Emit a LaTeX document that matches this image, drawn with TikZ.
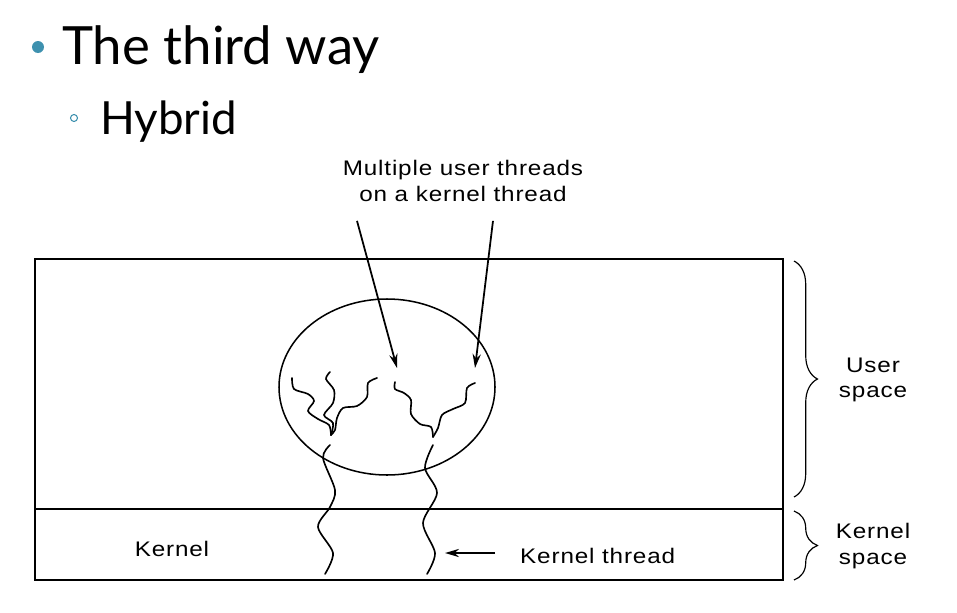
\documentclass[tikz,border=0pt]{standalone}
\usepackage{fontspec}
\setmainfont{Lato}
\newfontfamily\figfont{Liberation Sans}[FakeStretch=1.15,LetterSpace=4]
\usetikzlibrary{calc,arrows.meta,decorations.pathreplacing}

\definecolor{slideblue}{RGB}{62,145,175}

\begin{document}
\begin{tikzpicture}[>={Stealth[length=12pt,width=7pt]}, x=0.03cm, y=-0.03cm,
    txt/.style={font=\figfont\fontsize{18}{22}\selectfont, align=center, inner sep=0pt},
    thread/.style={line width=1.4pt, line cap=round},
    brace/.style={decorate, decoration={brace, amplitude=20pt}, line width=1pt}]
    \useasboundingbox (0,0) rectangle (957,612);

    % slide heading
    \fill[slideblue] (38,47) circle (6);
    \node[anchor=base west, inner sep=0pt, font=\fontsize{45}{50}\selectfont] (title) at (62,64) {The third way};
    \draw[slideblue, line width=0.9pt] (74,118) circle (3.5);
    \node[anchor=base west, inner sep=0pt, font=\fontsize{39}{45}\selectfont] (sub) at (100,134) {Hybrid};

    % user and kernel space
    \draw[line width=1.6pt] (35,259) rectangle (783,580);
    \draw[line width=1.6pt] (35,509) -- (783,509);
    \draw[line width=1.3pt] (387,387) ellipse (108 and 88);

    \node[txt] (multi) at (463,181) {Multiple user threads\\on a kernel thread};
    \node[txt] (kernel) at (172,549) {Kernel};
    \node[txt, anchor=west] (kthread) at (520,556) {Kernel thread};
    \node[txt] (user) at (873,380) {User\\space};
    \node[txt] (kspace) at (873,546) {Kernel\\space};

    \coordinate (tipa) at (397,368);
    \coordinate (tipb) at (475,368);
    \coordinate (tipk) at (445,553);

    \path[line width=1.5pt]
          ($(multi.south)+(-106,19)$) edge[->] (tipa)
          ($(multi.south)+(30,19)$)   edge[->] (tipb)
          ($(kthread.west)+(-25,-3)$) edge[->] (tipk);

    % user threads
    \draw[thread] plot[smooth] coordinates {(292,378) (294,389) (308,394) (314,401) (308,411) (318,419) (329,425) (331,435)};
    \draw[thread] plot[smooth] coordinates {(330,372) (326,379) (334,390) (333,403) (324,415) (333,423) (331,435)};
    \draw[thread] plot[smooth] coordinates {(377,378) (368,383) (367,397) (357,406) (343,408) (337,418) (335,430) (331,435)};
    \draw[thread] plot[smooth] coordinates {(395,382) (395,389) (404,393) (411,400) (411,414) (420,424) (431,427) (433,437)};
    \draw[thread] plot[smooth] coordinates {(475,383) (467,388) (465,403) (453,409) (442,415) (438,428) (433,437)};

    % kernel threads
    \draw[thread] plot[smooth] coordinates {(330,445) (323,458) (335,490) (330,507) (318,527) (333,553) (325,574)};
    \draw[thread] plot[smooth] coordinates {(433,445) (425,468) (437,493) (423,523) (435,553) (427,574)};

    \draw[brace] (794,261) -- (794,497);
    \draw[brace] (794,511) -- (794,580);
\end{tikzpicture}
\end{document}
